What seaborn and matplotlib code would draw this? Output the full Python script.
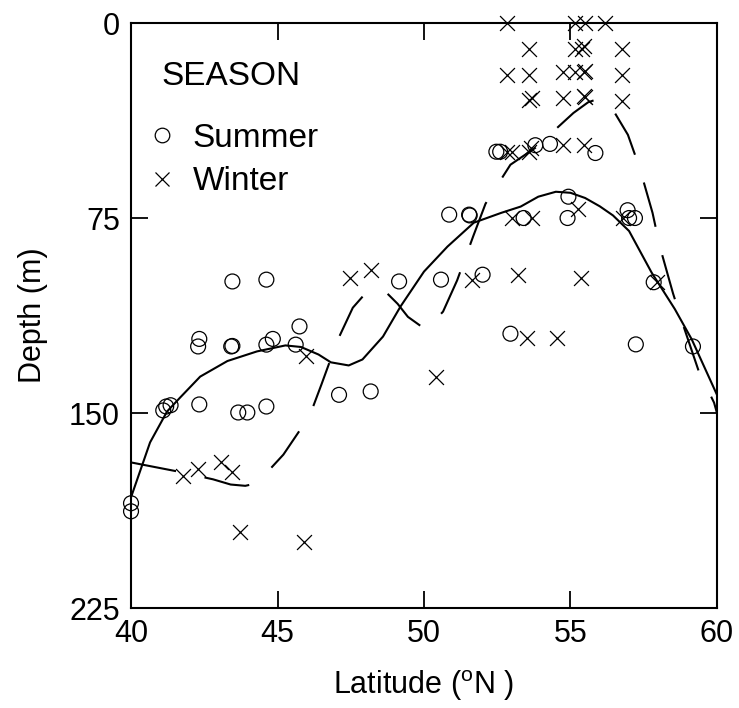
import matplotlib
matplotlib.use('Agg')
import matplotlib.pyplot as plt
import seaborn as sns
from matplotlib.lines import Line2D

# Summer samples (circles)
summer_lat = [40.0, 40.0, 41.1, 41.2, 41.35, 42.33, 43.66, 43.97, 44.62,
              43.46, 44.62, 45.75, 42.33, 42.29, 43.42, 43.46, 44.84, 44.62, 45.62,
              47.1, 48.18, 49.15, 50.58, 50.86, 51.54, 51.56, 52.0, 52.95,
              53.4, 54.9, 54.93, 56.95, 57.0, 57.2, 57.84, 57.23, 59.18,
              52.47, 52.6, 53.8, 54.3, 55.85]
summer_depth = [184.7, 187.8, 149, 147.5, 147, 146.7, 149.8, 149.8, 147.5,
                99.4, 98.7, 116.7, 121.5, 124.4, 124.4, 124.2, 121.5, 123.7, 123.7,
                143, 141.7, 99.4, 98.7, 73.7, 73.7, 74.0, 96.8, 119.5,
                75, 75, 66.8, 72, 75, 75, 99.7, 123.6, 124.4,
                49.5, 49.5, 47, 46.5, 50]

# Winter samples (crosses)
winter_lat = [52.85, 55.14, 55.48, 56.19,
              53.6, 55.14, 55.4, 55.45, 56.75,
              52.85, 53.6, 54.73, 55.14, 55.45, 55.5, 56.75,
              53.6, 53.68, 54.73, 55.45, 55.5, 56.75,
              52.85, 53.0, 53.6, 53.65, 54.75, 55.45,
              53.0, 53.67, 55.24, 56.78,
              53.2, 55.35, 57.95, 47.47, 48.2, 51.64,
              53.5, 54.55, 45.96, 50.4,
              41.78, 42.3, 43.08, 43.46, 43.73, 45.9]
winter_depth = [0, 0, 0, 0,
                10, 10, 10, 9, 10,
                20, 20, 19, 19, 19, 18.5, 20,
                29.5, 29, 29, 28, 28.5, 30,
                49.5, 49.5, 49.5, 48, 47, 47,
                75, 75, 71.7, 75,
                97, 98, 99.5, 98, 95, 99,
                121, 121, 128, 136,
                174.3, 171.7, 169, 172.8, 195.8, 199.7]

# Smoothed curves
summer_curve_lat = [40.0, 40.65, 41.23, 41.68, 42.36, 43.29, 44.3, 45.27, 45.8, 46.4,
                    46.82, 47.43, 47.9, 48.6, 49.2, 50.0, 50.8, 51.7, 52.64, 53.3,
                    53.9, 54.5, 55.0, 55.5, 56.0, 56.45, 57.0, 57.77, 58.56, 59.14, 60.0]
summer_curve_depth = [182.4, 161.3, 149.4, 144, 136, 130, 126.3, 124, 124.6, 127.5,
                      130.5, 131.7, 129.4, 120.6, 109, 95.6, 86, 76.8, 73, 70.6,
                      66.8, 64.9, 65.3, 67.3, 70.5, 74, 80, 96, 110, 121.7, 143]
winter_curve_lat = [40.0, 41.6, 42.8, 43.4, 43.9, 44.3, 45.2, 46.1, 46.5, 47.05,
                    47.57, 48.0, 48.4, 48.7, 49.1, 49.45, 50.07, 50.65, 51.13, 51.68,
                    52.1, 52.95, 53.8, 55.1, 55.6, 56.04, 56.45, 56.96, 57.36, 57.8,
                    58.05, 58.5, 58.87, 59.38, 59.9, 60.0]
winter_curve_depth = [169, 172.5, 175.5, 177.5, 178, 177, 166, 151, 139, 122,
                      109.5, 104, 102, 103.5, 108, 113, 118, 111, 99, 82,
                      69.5, 54.5, 48, 34.6, 30.5, 28.8, 33.4, 43, 55.7, 73,
                      86, 104, 117, 134, 146, 150]

sns.set_style('white')
plt.rcParams['font.family'] = ['Liberation Sans', 'DejaVu Sans']
plt.rcParams['mathtext.fontset'] = 'custom'
plt.rcParams['mathtext.rm'] = 'Liberation Sans'
plt.rcParams['text.color'] = 'black'
plt.rcParams['axes.labelcolor'] = 'black'

fig = plt.figure(figsize=(7.39, 7.08), dpi=100)
ax = fig.add_axes([0.1773, 0.1412, 0.7929, 0.8263])

sns.lineplot(x=summer_curve_lat, y=summer_curve_depth, sort=False, estimator=None,
             color='black', linewidth=1.5, ax=ax)
sns.lineplot(x=winter_curve_lat, y=winter_curve_depth, sort=False, estimator=None,
             color='black', linewidth=1.5, linestyle=(0, (22, 14)), ax=ax)

sns.scatterplot(x=summer_lat, y=summer_depth, marker='o', s=115,
                facecolors='none', edgecolor='black', linewidth=0.9,
                clip_on=False, zorder=3, ax=ax)
sns.scatterplot(x=winter_lat, y=winter_depth, marker='x', s=115,
                color='black', linewidth=0.9, clip_on=False, zorder=3, ax=ax)

ax.set_xlim(40, 60)
ax.set_ylim(225, 0)
ax.set_xticks([40, 45, 50, 55, 60])
ax.set_yticks([0, 75, 150, 225])
ax.tick_params(direction='in', length=12, width=1.3, top=True, right=True,
               bottom=True, left=True, labelsize=22, pad=8, colors='black')
for sp in ax.spines.values():
    sp.set_linewidth(1.5)
    sp.set_color('black')

ax.set_xlabel('Latitude ($\\mathrm{^{o}}$N )', fontsize=22, labelpad=14)
ax.set_ylabel('Depth (m)', fontsize=22, labelpad=15)

handles = [Line2D([], [], marker='o', linestyle='none', markersize=10.5,
                  markerfacecolor='none', markeredgecolor='black', markeredgewidth=0.9),
           Line2D([], [], marker='x', linestyle='none', markersize=10.5,
                  color='black', markeredgewidth=0.9)]
leg = ax.legend(handles, ['Summer', 'Winter'], title='SEASON', loc='upper left',
                bbox_to_anchor=(0.03, 0.957), frameon=False, fontsize=24,
                title_fontsize=24, alignment='left', handlelength=0.0,
                handletextpad=0.92, labelspacing=0.37, borderaxespad=0)
leg._legend_box.sep = 22

fig.savefig('out.png', dpi=100)
